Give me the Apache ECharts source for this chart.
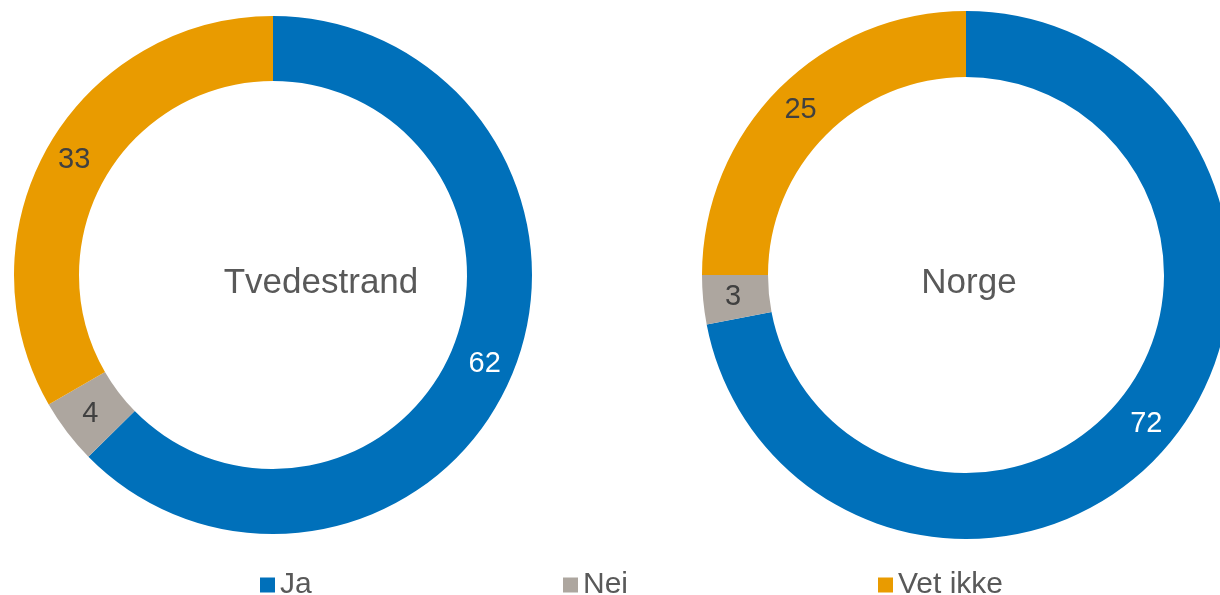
<!DOCTYPE html>
<html>
<head>
<meta charset="utf-8">
<script src="https://cdn.jsdelivr.net/npm/echarts@6/dist/echarts.min.js"></script>
<style>
html,body{margin:0;padding:0;background:#fff;}
#chart{width:1220px;height:595px;}
</style>
</head>
<body>
<div id="chart"></div>
<script>
const categories = ['Ja', 'Nei', 'Vet ikke'];
const tvedestrandValues = [62, 4, 33];
const norgeValues = [72, 3, 25];
const groupNames = ['Tvedestrand', 'Norge'];

const colors = ['#0070BA', '#ADA69F', '#E99B00'];
const labelColors = ['#FFFFFF', '#404040', '#404040'];
const FONT = 'Liberation Sans, Arial, sans-serif';

function buildData(values) {
  return categories.map((name, i) => ({
    name: name,
    value: values[i],
    itemStyle: { color: colors[i] },
    label: { color: labelColors[i] }
  }));
}

function pieSeries(name, values, center, radius) {
  return {
    type: 'pie',
    name: name,
    center: center,
    radius: radius,
    startAngle: 90,
    clockwise: true,
    avoidLabelOverlap: false,
    animation: false,
    silent: true,
    itemStyle: { borderWidth: 0 },
    label: {
      show: true,
      position: 'inside',
      formatter: '{c}',
      fontSize: 29,
      fontFamily: FONT
    },
    labelLine: { show: false },
    data: buildData(values)
  };
}

const legendX = [255, 558, 873];

const chart = echarts.init(document.getElementById('chart'), null, { renderer: 'canvas' });
chart.setOption({
  animation: false,
  backgroundColor: '#ffffff',
  title: [
    {
      text: groupNames[0],
      left: 316, top: 278,
      textAlign: 'center', textVerticalAlign: 'middle',
      textStyle: { fontSize: 35, fontWeight: 'normal', color: '#595959', fontFamily: FONT }
    },
    {
      text: groupNames[1],
      left: 964, top: 278,
      textAlign: 'center', textVerticalAlign: 'middle',
      textStyle: { fontSize: 35, fontWeight: 'normal', color: '#595959', fontFamily: FONT }
    }
  ],
  legend: categories.map((c, i) => ({
    data: [c],
    left: legendX[i],
    top: 565,
    orient: 'horizontal',
    icon: 'rect',
    itemWidth: 15,
    itemHeight: 15,
    selectedMode: false,
    textStyle: { fontSize: 30, color: '#595959', fontFamily: FONT }
  })),
  series: [
    pieSeries(groupNames[0], tvedestrandValues, [273, 275], [194, 259]),
    pieSeries(groupNames[1], norgeValues, [966, 275], [198, 264])
  ]
});
</script>
</body>
</html>
